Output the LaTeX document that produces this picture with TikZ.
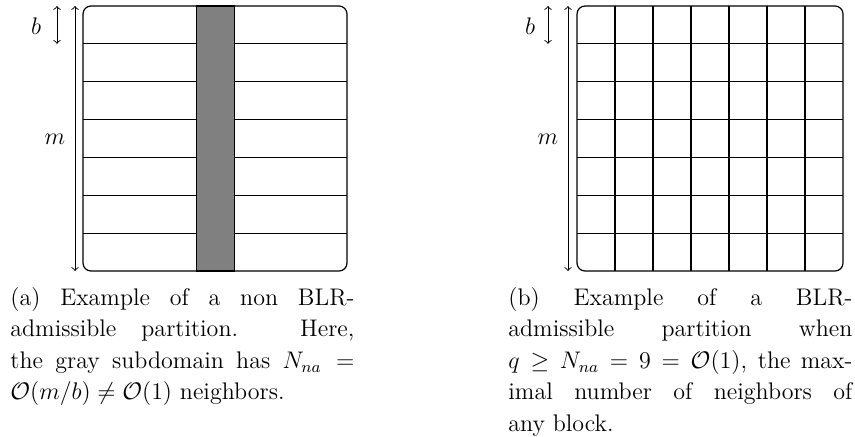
\documentclass[tikz,border=0pt]{standalone}
\begin{document}
\begin{tikzpicture}[x=0.5pt,y=-0.5pt,
  font=\fontsize{12pt}{15.75pt}\selectfont,
  gridline/.style={line width=0.6pt},
  outerbox/.style={line width=0.6pt,rounded corners=4pt},
  dimarrow/.style={<->,line width=0.45pt},
  caption/.style={anchor=north west,inner sep=0pt,text width=172pt,align=justify}]
\useasboundingbox (0,0) rectangle (855,436);
% ---------- left panel ----------
\foreach \k in {1,...,6}
  \draw[gridline] (83,{6+\k*37.857}) -- (347,{6+\k*37.857});
\filldraw[gridline,fill=gray] (196.6,6) rectangle (234.4,271);
\draw[outerbox] (83,6) rectangle (347,271);
\coordinate (lbt) at (57,6);
\coordinate (lbb) at (57,43.86);
\coordinate (lmt) at (75,6);
\coordinate (lmb) at (75,271);
\draw[dimarrow] (lbt) -- (lbb);
\draw[dimarrow] (lmt) -- (lmb);
\node (lb) at (36,26) {$b$};
\node (lm) at (55,139) {$m$};
\node[caption] (capa) at (10,287) {(a) Example of a non BLR-\linebreak admissible partition. Here,\linebreak the gray subdomain has $N_{na} =$\linebreak $\mathcal{O}(m/b) \neq \mathcal{O}(1)$ neighbors.};
% ---------- right panel ----------
\foreach \k in {1,...,6}{
  \draw[gridline] (577,{6+\k*37.857}) -- (843,{6+\k*37.857});
  \draw[gridline] ({577+\k*38},6) -- ({577+\k*38},271);
}
\draw[outerbox] (577,6) rectangle (843,271);
\coordinate (rbt) at (548,6);
\coordinate (rbb) at (548,43.86);
\coordinate (rmt) at (568,6);
\coordinate (rmb) at (568,271);
\draw[dimarrow] (rbt) -- (rbb);
\draw[dimarrow] (rmt) -- (rmb);
\node (rb) at (530,26) {$b$};
\node (rm) at (548,139) {$m$};
\node[caption] (capb) at (508,287) {(b) Example of a BLR-\linebreak admissible partition when\linebreak $q \geq N_{na} = 9 = \mathcal{O}(1)$, the max-\linebreak imal number of neighbors of\linebreak any block.};
\end{tikzpicture}
\end{document}
